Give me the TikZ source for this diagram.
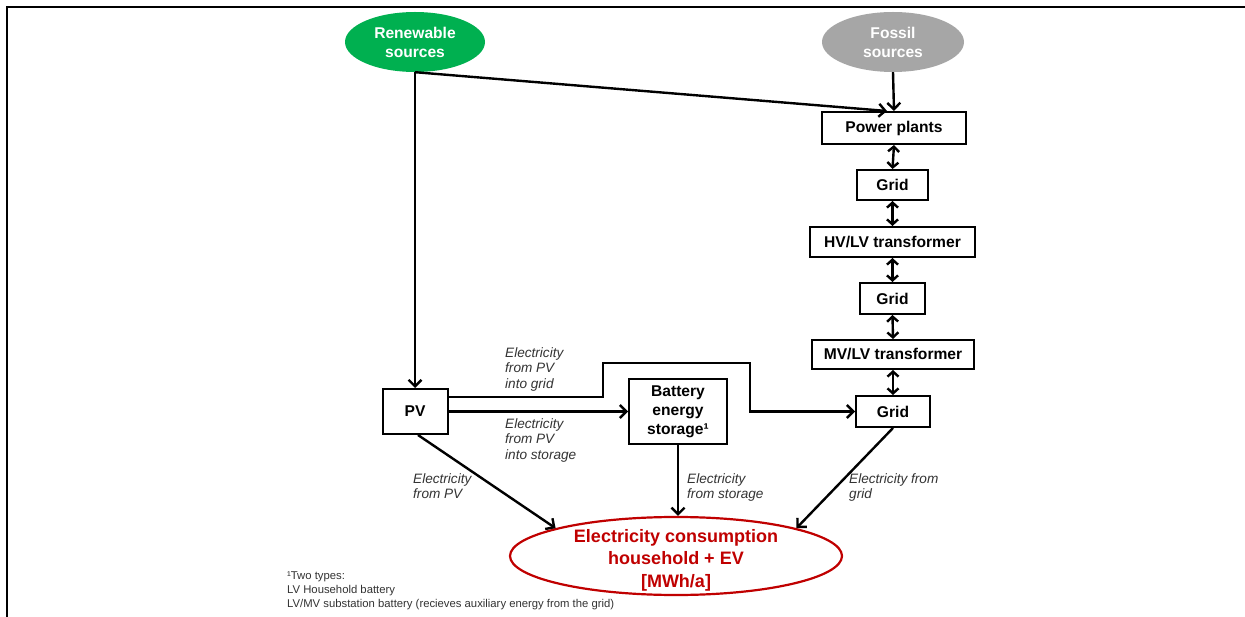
\documentclass[tikz,border=0pt]{standalone}
\usepackage{fontspec}
\setmainfont{Liberation Sans}
\usetikzlibrary{arrows.meta,shapes.geometric}
\definecolor{rgreen}{HTML}{00B050}
\definecolor{fgray}{HTML}{A6A6A6}
\definecolor{cred}{HTML}{C00000}
\definecolor{ltext}{HTML}{333333}
\tikzset{
  boxnode/.style={draw, line width=2pt, inner sep=0pt, align=center,
    font=\fontsize{15.6}{19}\selectfont\bfseries},
  srcnode/.style={ellipse, inner sep=0pt, align=center, text=white,
    font=\fontsize{15.6}{19}\selectfont\bfseries},
  arr/.style={line width=2.4pt, -{Straight Barb[length=6.5pt,width=13pt]}},
  dbl/.style={line width=2.4pt, {Straight Barb[length=5pt,width=11pt]}-{Straight Barb[length=5pt,width=11pt]}},
  lbl/.style={anchor=north west, inner sep=0pt, align=left, text=ltext,
    font=\fontsize{13.6}{15.7}\selectfont\itshape},
  note/.style={anchor=north west, inner sep=0pt, align=left, text=ltext,
    font=\fontsize{11.3}{14}\selectfont}
}
\begin{document}
\begin{tikzpicture}[x=1pt,y=-1pt]
\useasboundingbox (0,0) rectangle (1245,617);
\fill[white] (0,0) rectangle (1245,617);
\draw[line width=1.6pt] (7,617) -- (7,7) -- (1245,7);

% sources
\node[srcnode, fill=rgreen, minimum width=140pt, minimum height=60pt] (ren) at (415,42) {Renewable\\sources};
\node[srcnode, fill=fgray, minimum width=142pt, minimum height=60pt] (fos) at (893,42) {Fossil\\sources};

% column
\node[boxnode, minimum width=144pt, minimum height=32pt] (pp) at (894,128) {Power plants};
\node[boxnode, minimum width=71pt, minimum height=30pt] (g1) at (892.5,185) {Grid};
\node[boxnode, minimum width=165pt, minimum height=30pt] (hv) at (892.5,242) {HV/LV transformer};
\node[boxnode, minimum width=65pt, minimum height=31pt] (g2) at (892.5,298.5) {Grid};
\node[boxnode, minimum width=162pt, minimum height=29pt] (mv) at (893,354.5) {MV/LV transformer};
\node[boxnode, minimum width=74pt, minimum height=31pt] (g3) at (893,411.5) {Grid};

% PV and battery
\node[boxnode, minimum width=65pt, minimum height=45pt] (pv) at (415,411.5) {PV};
\node[boxnode, minimum width=98pt, minimum height=65pt] (bat) at (678,411.5) {Battery\\energy\\storage¹};

% consumption
\node[ellipse, draw=cred, line width=2.2pt, minimum width=332pt, minimum height=78pt, inner sep=0pt] (cons) at (676,556) {};
\node[align=center, inner sep=0pt, text=cred, font=\fontsize{18}{22.5}\selectfont\bfseries] (constext) at (676,560) {Electricity consumption\\household + EV\\{[MWh/a]}};

% arrows
\draw[arr] (ren.south) -- (pv.north);
\draw[arr] (ren.south) -- ([xshift=-7pt]pp.north);
\draw[arr] (fos.south) -- (pp.north);
\draw[dbl] (pp.south) -- (g1.north);
\draw[dbl] (g1.south) -- (hv.north);
\draw[dbl] (hv.south) -- (g2.north);
\draw[dbl] (g2.south) -- (mv.north);
\draw[dbl] (mv.south) -- (g3.north);
\draw[arr] ([yshift=14.5pt]pv.east) -- (603,397) -- (603,363) -- (750,363) -- (750,411.5) -- (g3.west);
\draw[arr] (pv.east) -- (bat.west);
\draw[arr] ([xshift=3pt]pv.south) -- (cons.167);
\draw[arr] (bat.south) -- (bat.south |- cons.north);
\draw[arr] (g3.south) -- (cons.13);

% labels
\node[lbl] (l1) at (505,347) {Electricity\\from PV\\into grid};
\node[lbl] (l2) at (505,418) {Electricity\\from PV\\into storage};
\node[lbl] (l3) at (413,473) {Electricity\\from PV};
\node[lbl] (l4) at (687,473) {Electricity\\from storage};
\node[lbl] (l5) at (849,473) {Electricity from\\grid};

\node[note] (fn) at (287,572) {¹Two types:\\LV Household battery\\LV/MV substation battery (recieves auxiliary energy from the grid)};
\end{tikzpicture}
\end{document}
